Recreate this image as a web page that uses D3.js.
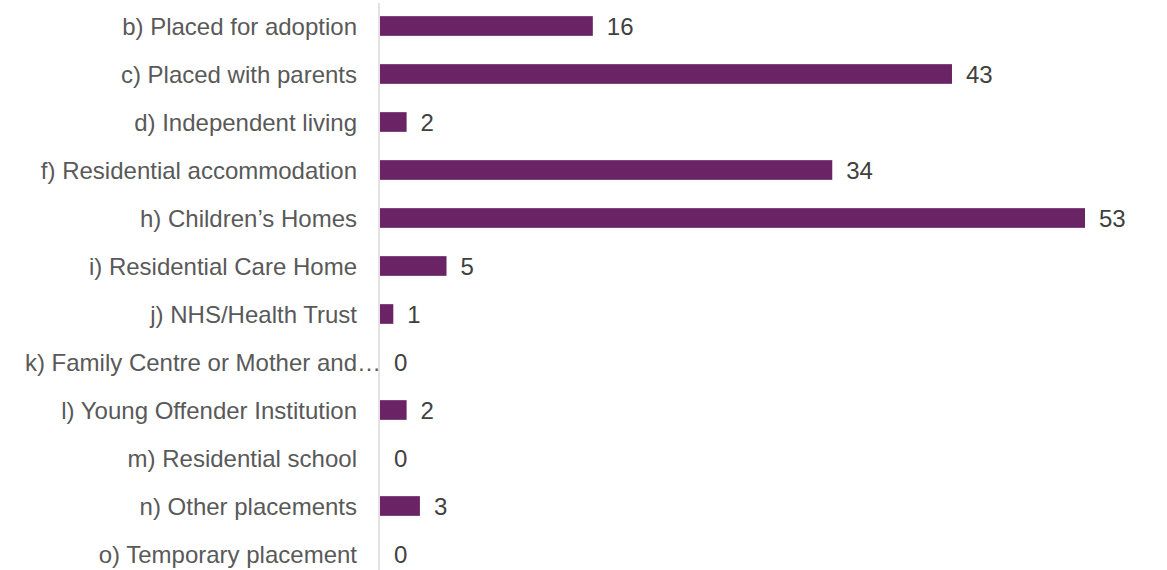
<!DOCTYPE html>
<html><head><meta charset="utf-8">
<script src="https://cdn.jsdelivr.net/npm/d3@7"></script>
<style>body{margin:0;background:#fff}svg{display:block}</style>
</head><body>
<script>
const categories = ["b) Placed for adoption","c) Placed with parents","d) Independent living","f) Residential accommodation","h) Children\u2019s Homes","i) Residential Care Home","j) NHS/Health Trust","k) Family Centre or Mother and\u2026","l) Young Offender Institution","m) Residential school","n) Other placements","o) Temporary placement"];
const values = [16,43,2,34,53,5,1,0,2,0,3,0];

const W=1167,H=570;
const svg=d3.select("body").append("svg").attr("width",W).attr("height",H);
const x=d3.scaleLinear().domain([0,53]).range([380,1085]);
const y=d3.scaleBand().domain(categories).range([2,578]).paddingInner(0.59).paddingOuter(0.295);
const font="'Liberation Sans', Arial, sans-serif";
const fs=24;

svg.append("line").attr("x1",379).attr("x2",379).attr("y1",3).attr("y2",H).attr("stroke","#d9d9d9").attr("stroke-width",1.5);

svg.selectAll("rect.bar").data(values).join("rect").attr("class","bar")
 .attr("x",x(0)).attr("y",(d,i)=>y(categories[i])).attr("width",d=>x(d)-x(0)).attr("height",y.bandwidth()).attr("fill","#6A2465");

svg.selectAll("text.val").data(values).join("text").attr("class","val")
 .attr("x",d=>x(d)+14).attr("y",(d,i)=>y(categories[i])+y.bandwidth()/2+1).attr("dy","0.35em")
 .attr("font-family",font).attr("font-size",fs).attr("fill","#404040").text(d=>d);

svg.selectAll("text.cat").data(categories).join("text").attr("class","cat")
 .attr("x",d=>d.endsWith("\u2026")?381:357).attr("y",d=>y(d)+y.bandwidth()/2+1).attr("dy","0.35em")
 .attr("text-anchor","end").attr("font-family",font).attr("font-size",fs).attr("fill","#595959").text(d=>d);
</script>
</body></html>
